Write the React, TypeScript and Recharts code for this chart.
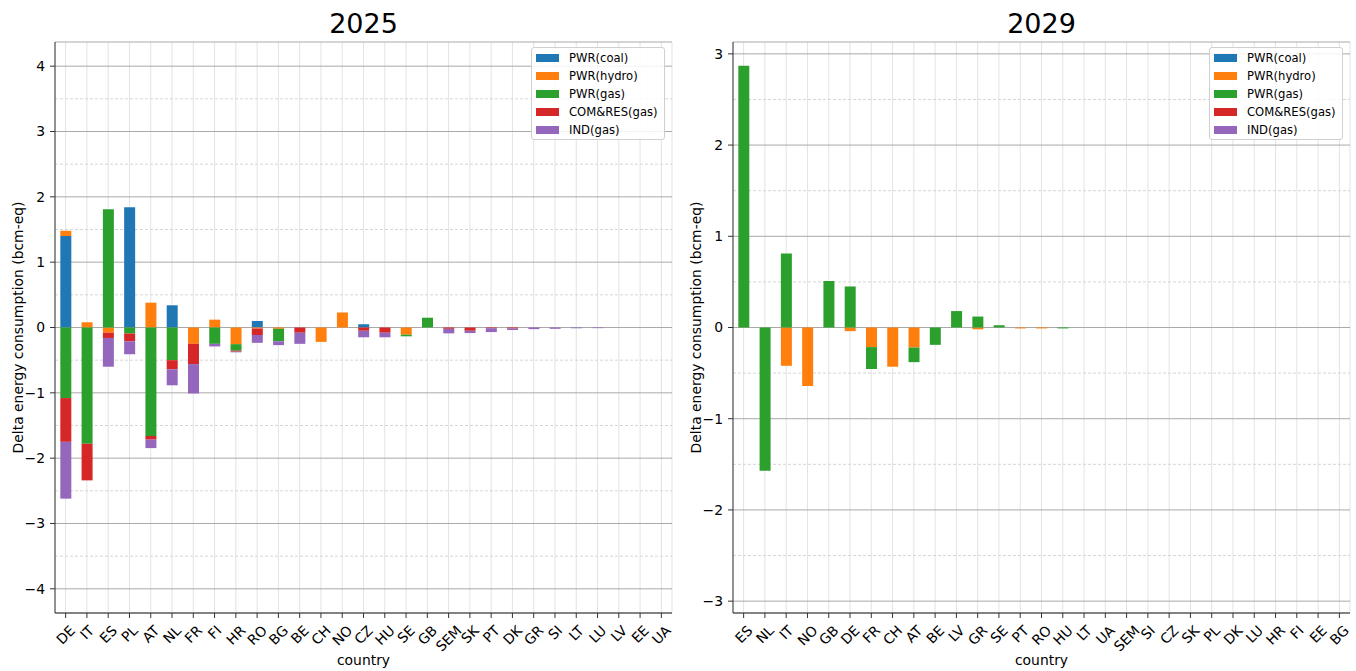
import React from 'react';
import { BarChart, Bar, XAxis, YAxis, CartesianGrid } from 'recharts';

const FONT = '"DejaVu Sans", "Liberation Sans", sans-serif';

const seriesNames = ['PWR(coal)', 'PWR(hydro)', 'PWR(gas)', 'COM&RES(gas)', 'IND(gas)'];
const seriesKeys = ['coal', 'hydro', 'gas', 'comres', 'ind'];
const seriesColors = ['#1f77b4', '#ff7f0e', '#2ca02c', '#d62728', '#9467bd'];

// 2025
const countries2025 = ['DE', 'IT', 'ES', 'PL', 'AT', 'NL', 'FR', 'FI', 'HR', 'RO', 'BG', 'BE', 'CH', 'NO', 'CZ', 'HU', 'SE', 'GB', 'SEM', 'SK', 'PT', 'DK', 'GR', 'SI', 'LT', 'LU', 'LV', 'EE', 'UA'];
const coal2025 = [1.40, 0, 0, 1.84, 0, 0.34, 0, 0, 0, 0.10, 0, 0, 0, 0, 0.05, 0, 0, 0, 0, 0, 0, 0, 0, 0, 0, 0, 0, 0, 0];
const hydro2025 = [0.08, 0.08, -0.08, 0, 0.38, 0, -0.25, 0.12, -0.255, -0.015, -0.02, 0, -0.22, 0.23, 0, 0, -0.11, 0, 0, 0, 0, 0, 0, 0, 0, 0, 0, 0, 0];
const gas2025 = [-1.08, -1.78, 1.81, -0.09, -1.66, -0.50, 0, -0.25, -0.10, 0, -0.19, 0, 0, 0, 0, 0, -0.025, 0.15, 0, 0, 0, 0, 0, 0, 0, 0, 0, 0, 0];
const comres2025 = [-0.67, -0.56, -0.08, -0.12, -0.056, -0.14, -0.31, 0, -0.015, -0.10, 0, -0.08, 0, 0, -0.05, -0.08, 0, 0, -0.02, -0.05, -0.01, -0.015, 0, 0, 0, 0, 0, 0, 0];
const ind2025 = [-0.87, 0, -0.44, -0.20, -0.13, -0.245, -0.45, -0.04, -0.01, -0.12, -0.06, -0.17, 0, 0, -0.10, -0.07, 0, 0, -0.07, -0.035, -0.06, -0.025, -0.025, -0.02, -0.012, -0.01, 0, 0, 0];

// 2029
const countries2029 = ['ES', 'NL', 'IT', 'NO', 'GB', 'DE', 'FR', 'CH', 'AT', 'BE', 'LV', 'GR', 'SE', 'PT', 'RO', 'HU', 'LT', 'UA', 'SEM', 'SI', 'CZ', 'SK', 'PL', 'DK', 'LU', 'HR', 'FI', 'EE', 'BG'];
const coal2029 = [0, 0, 0, 0, 0, 0, 0, 0, 0, 0, 0, 0, 0, 0, 0, 0, 0, 0, 0, 0, 0, 0, 0, 0, 0, 0, 0, 0, 0];
const hydro2029 = [0, 0, -0.42, -0.64, 0, -0.04, -0.215, -0.43, -0.22, 0, 0, -0.02, 0, -0.01, -0.01, 0, 0, 0, 0, 0, 0, 0, 0, 0, 0, 0, 0, 0, 0];
const gas2029 = [2.87, -1.57, 0.81, 0, 0.51, 0.45, -0.24, 0, -0.16, -0.19, 0.18, 0.12, 0.025, 0, 0, -0.01, 0, 0, 0, 0, 0, 0, 0, 0, 0, 0, 0, 0, 0];
const comres2029 = [0, 0, 0, 0, 0, 0, 0, 0, 0, 0, 0, 0, 0, 0, 0, 0, 0, 0, 0, 0, 0, 0, 0, 0, 0, 0, 0, 0, 0];
const ind2029 = [0, 0, 0, 0, 0, 0, 0, 0, 0, 0, 0, 0, 0, 0, 0, 0, 0, 0, 0, 0, 0, 0, 0, 0, 0, 0, 0, 0, 0];

// axes
const domain2025: [number, number] = [-4.37, 4.37];
const majorTicks2025 = [-4, -3, -2, -1, 0, 1, 2, 3, 4];
const minorTicks2025 = [-3.5, -2.5, -1.5, -0.5, 0.5, 1.5, 2.5, 3.5];
const domain2029: [number, number] = [-3.13, 3.13];
const majorTicks2029 = [-3, -2, -1, 0, 1, 2, 3];
const minorTicks2029 = [-2.5, -1.5, -0.5, 0.5, 1.5, 2.5];

const TICK_FS = 13.9;
const PANEL_W = 672;
const EXTRA_R = 14;
const PANEL_H = 671;
const PLOT_TOP = 42;
const X_AXIS_H = 58;
const Y_AXIS_W = 55;

let ctx: CanvasRenderingContext2D | null = null;
function textWidth(s: string, font: string): number {
  if (!ctx && typeof document !== 'undefined') {
    ctx = document.createElement('canvas').getContext('2d');
  }
  if (!ctx) return s.length * 8.5;
  ctx.font = font;
  return ctx.measureText(s).width;
}

const XTick = (props: any) => {
  const { x, y, payload } = props;
  const label = String(payload.value);
  const w = textWidth(label, `${TICK_FS}px "DejaVu Sans"`);
  const h = TICK_FS;
  const d = ((w + h) * Math.SQRT1_2) / 2;
  const cx = x;
  const cy = y + d;
  return (
    <text
      x={cx}
      y={cy}
      textAnchor="middle"
      dominantBaseline="central"
      transform={`rotate(-45 ${cx} ${cy})`}
      fontSize={TICK_FS}
      fontFamily={FONT}
      fill="#000"
    >
      {label}
    </text>
  );
};

const fmt = (v: number) => String(v).replace('-', '\u2212');

type PanelProps = {
  left: number;
  title: string;
  countries: string[];
  values: number[][];
  domain: [number, number];
  majorTicks: number[];
  minorTicks: number[];
};

function Panel({ left, title, countries, values, domain, majorTicks, minorTicks }: PanelProps) {
  const data = countries.map((c, i) => {
    const row: any = { country: c };
    seriesKeys.forEach((k, j) => {
      row[k] = values[j][i];
    });
    return row;
  });
  const plotLeft = Y_AXIS_W;
  const plotRight = PANEL_W;
  const plotBottom = PANEL_H - X_AXIS_H;
  const plotCx = (plotLeft + plotRight) / 2;
  const plotCy = (PLOT_TOP + plotBottom) / 2;
  return (
    <div style={{ position: 'absolute', left, top: 0, width: PANEL_W + EXTRA_R, height: PANEL_H }}>
      <BarChart
        width={PANEL_W + EXTRA_R}
        height={PANEL_H}
        data={data}
        margin={{ top: PLOT_TOP, right: EXTRA_R, bottom: 0, left: 0 }}
        stackOffset="sign"
        barCategoryGap="25%"
      >
        <CartesianGrid vertical={true} horizontal={false} stroke="#e3e3e3" />
        <CartesianGrid
          vertical={false}
          horizontal={true}
          horizontalValues={minorTicks}
          stroke="#d6d6d6"
          strokeDasharray="3 2"
        />
        <CartesianGrid vertical={false} horizontal={true} stroke="#a9a9a9" />
        <XAxis
          dataKey="country"
          height={X_AXIS_H}
          interval={0}
          tickSize={5}
          tickMargin={5}
          tick={<XTick />}
          axisLine={{ stroke: '#333' }}
          tickLine={{ stroke: '#333' }}
        />
        <XAxis
          xAxisId="top"
          orientation="top"
          dataKey="country"
          height={0}
          tick={false}
          tickLine={false}
          axisLine={{ stroke: '#333' }}
        />
        <YAxis
          type="number"
          width={Y_AXIS_W}
          domain={domain}
          ticks={majorTicks}
          allowDataOverflow
          tickSize={5}
          tickMargin={5}
          tickFormatter={fmt}
          tick={{ fontSize: TICK_FS, fill: '#000', fontFamily: FONT }}
          axisLine={{ stroke: '#333' }}
          tickLine={{ stroke: '#333' }}
        />
        <YAxis
          yAxisId="r"
          orientation="right"
          type="number"
          width={0}
          domain={domain}
          allowDataOverflow
          tick={false}
          tickLine={false}
          axisLine={{ stroke: '#333' }}
        />
        {seriesKeys.map((k, j) => (
          <Bar
            key={k}
            dataKey={k}
            name={seriesNames[j]}
            stackId="s"
            fill={seriesColors[j]}
            isAnimationActive={false}
          />
        ))}
      </BarChart>
      <svg
        width={PANEL_W}
        height={PANEL_H}
        style={{ position: 'absolute', left: 0, top: 0, pointerEvents: 'none' }}
      >
        <text x={plotCx} y={33} textAnchor="middle" fontSize={27} fontFamily={FONT} fill="#000">
          {title}
        </text>
        <text x={plotCx} y={665} textAnchor="middle" fontSize={TICK_FS} fontFamily={FONT} fill="#000">
          country
        </text>
        <text
          x={23}
          y={plotCy}
          textAnchor="middle"
          fontSize={TICK_FS}
          fontFamily={FONT}
          fill="#000"
          transform={`rotate(-90 23 ${plotCy})`}
        >
          Delta energy consumption (bcm-eq)
        </text>
      </svg>
      <div
        style={{
          position: 'absolute',
          left: plotRight - 7 - 134,
          top: 47,
          width: 134,
          height: 93,
          boxSizing: 'border-box',
          border: '1px solid #d0d0d0',
          borderRadius: 3,
          background: 'rgba(255,255,255,0.85)',
          fontFamily: FONT,
          fontSize: 11.6,
          color: '#000',
          paddingTop: 1,
        }}
      >
        {seriesNames.map((n, j) => (
          <div key={n} style={{ height: 18, position: 'relative' }}>
            <span
              style={{
                position: 'absolute',
                left: 4,
                top: 5,
                width: 23,
                height: 8,
                background: seriesColors[j],
              }}
            />
            <span style={{ position: 'absolute', left: 37, top: 1, lineHeight: '16px', whiteSpace: 'nowrap' }}>{n}</span>
          </div>
        ))}
      </div>
    </div>
  );
}

export default function App() {
  return (
    <div
      style={{
        position: 'absolute',
        left: 0,
        top: 0,
        width: 1356,
        height: 671,
        background: '#fff',
        overflow: 'hidden',
      }}
    >
      <Panel
        left={0}
        title="2025"
        countries={countries2025}
        values={[coal2025, hydro2025, gas2025, comres2025, ind2025]}
        domain={domain2025}
        majorTicks={majorTicks2025}
        minorTicks={minorTicks2025}
      />
      <Panel
        left={678}
        title="2029"
        countries={countries2029}
        values={[coal2029, hydro2029, gas2029, comres2029, ind2029]}
        domain={domain2029}
        majorTicks={majorTicks2029}
        minorTicks={minorTicks2029}
      />
    </div>
  );
}
